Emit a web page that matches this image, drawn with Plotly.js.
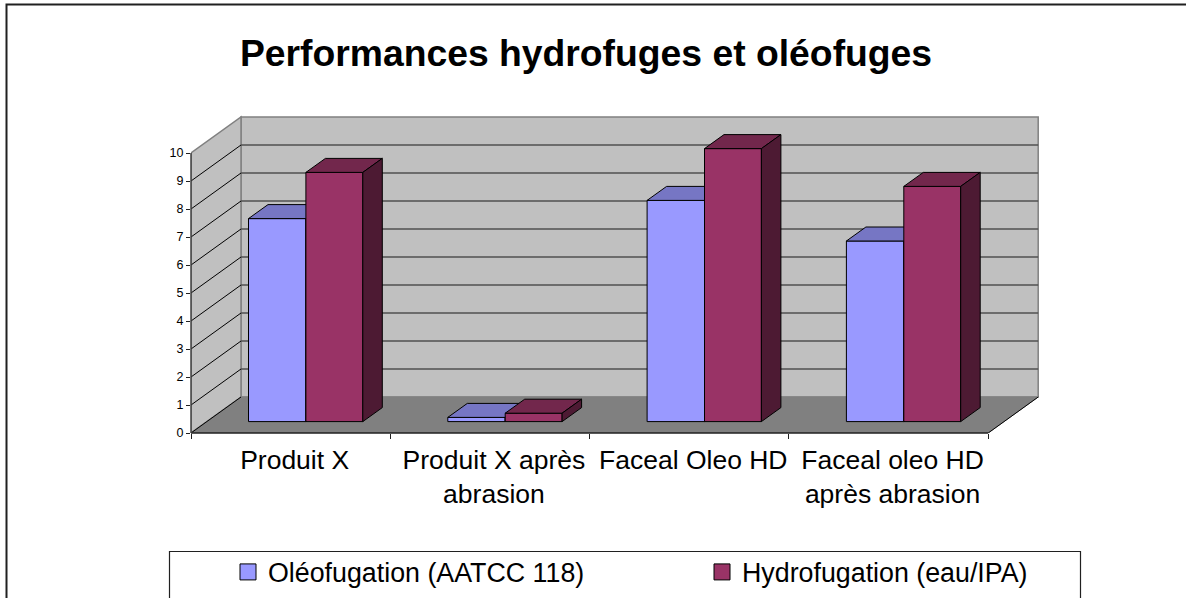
<!DOCTYPE html>
<html>
<head>
<meta charset="utf-8">
<script src="https://cdn.plot.ly/plotly-3.0.1.min.js"></script>
<style>html,body{margin:0;padding:0;background:#fff;overflow:hidden}</style>
</head>
<body>
<div id="chart" style="width:1186px;height:598px"></div>
<script>
const categories = ["Produit X", "Produit X après<br>abrasion", "Faceal Oleo HD", "Faceal oleo HD<br>après abrasion"];
const oleofugation = [7.25, 0.15, 7.9, 6.45];
const hydrofugation = [8.9, 0.3, 9.75, 8.4];
const seriesNames = ["Oléofugation (AATCC 118)", "Hydrofugation (eau/IPA)"];
const yTicks = [0, 1, 2, 3, 4, 5, 6, 7, 8, 9, 10];

// Geometry of the oblique projection
const W = 1186, H = 598, L = 191, T = 113, PW = 995, PH = 320;
const pxX = 199.3, pxY = 28;
const xMax = PW / pxX, yMax = PH / pxY;
const wallDx = 50 / pxX, wallDy = 36 / pxY;
const barDx = 19.5 / pxX, barDy = 14 / pxY;
const floorY = 11.4 / pxY;
const x0 = 0.2885, x1 = 0.5765, x2 = 0.862;
const nCat = categories.length, yTop = yTicks[yTicks.length - 1];

const xp = px => (px - L) / PW;
const yp = py => (T + PH - py) / PH;
const poly = pts => "M" + pts.map(p => p[0] + "," + p[1]).join("L") + "Z";

const shapes = [];
const dataShape = (pts, fill, color, width) => shapes.push({
  type: "path", xref: "x", yref: "y", layer: "below", path: poly(pts),
  fillcolor: fill, line: {color: color, width: width}
});
const seg = (a, b, color, width) => shapes.push({
  type: "line", xref: "x", yref: "y", layer: "below",
  x0: a[0], y0: a[1], x1: b[0], y1: b[1], line: {color: color, width: width}
});
// back wall, side wall, floor
dataShape([[wallDx, wallDy], [nCat + wallDx, wallDy], [nCat + wallDx, wallDy + yTop], [wallDx, wallDy + yTop]], "#c0c0c0", "#808080", 1.5);
dataShape([[0, 0], [wallDx, wallDy], [wallDx, wallDy + yTop], [0, yTop]], "#c0c0c0", "#808080", 1.5);
dataShape([[0, 0], [nCat, 0], [nCat + wallDx, wallDy], [wallDx, wallDy]], "#808080", "#808080", 1);
yTicks.slice(1, -1).forEach(v => {
  seg([wallDx, v + wallDy], [nCat + wallDx, v + wallDy], "#505050", 1.5);
  seg([0, v], [wallDx, v + wallDy], "#000000", 1);
});
seg([0, 0], [wallDx, wallDy], "#000000", 1);
seg([nCat, 0], [nCat + wallDx, wallDy], "#000000", 1);
// front axis lines, reach outside the clip region on their cross direction
shapes.push({type: "line", xref: "x", yref: "paper", x0: 0, x1: nCat, y0: 0, y1: 0, line: {color: "#202020", width: 1.5}});
shapes.push({type: "line", xref: "paper", yref: "y", x0: 0, x1: 0, y0: 0, y1: yTop, line: {color: "#404040", width: 1.5}});
// chart frame and legend frame
shapes.push({type: "path", xref: "paper", yref: "paper",
  path: `M${xp(6.5)},${yp(598)}L${xp(6.5)},${yp(4.5)}L${xp(1186)},${yp(4.5)}`, line: {color: "#202020", width: 2}});
shapes.push({type: "path", xref: "paper", yref: "paper",
  path: `M${xp(169.5)},${yp(598)}L${xp(169.5)},${yp(551.5)}L${xp(1080.5)},${yp(551.5)}L${xp(1080.5)},${yp(598)}`, line: {color: "#202020", width: 1.2}});

const pairs = fn => {
  const xs = [], ys = [];
  categories.forEach((c, i) => { fn(i).forEach(p => { xs.push(p[0]); ys.push(p[1]); }); xs.push(null); ys.push(null); });
  return {x: xs, y: ys};
};
const seriesTraces = (vals, a, b, name, col, top, side, xa, ya) => {
  const w = b - a;
  const base = {xaxis: xa, yaxis: ya, hoverinfo: "skip", showlegend: false, legendgroup: name};
  const face = (fn, fill) => Object.assign({}, base, pairs(fn), {type: "scatter", mode: "lines", fill: "toself", fillcolor: fill, line: {color: "#000", width: 1}});
  return [
    Object.assign({}, base, {type: "bar", name: name, x: categories.map((c, i) => i + a + w / 2), y: vals, base: vals.map(() => floorY),
      width: w, marker: {color: col, line: {color: "#000", width: 1}}}),
    face(i => { const v = vals[i] + floorY; return [[i + a, v], [i + b, v], [i + b + barDx, v + barDy], [i + a + barDx, v + barDy], [i + a, v]]; }, top),
    face(i => { const v = vals[i] + floorY; return [[i + b, floorY], [i + b + barDx, floorY + barDy], [i + b + barDx, v + barDy], [i + b, v], [i + b, floorY]]; }, side),
    Object.assign({}, base, {type: "scatter", mode: "markers", name: name, x: [null], y: [null], showlegend: true,
      marker: {symbol: "square", size: 16, color: col, line: {color: "#000", width: 1}}})
  ];
};

const data = [
  ...seriesTraces(oleofugation, x0, x1, seriesNames[0], "#9999ff", "#7676c4", "#4f4f85", "x", "y"),
  ...seriesTraces(hydrofugation, x1, x2, seriesNames[1], "#993366", "#72274c", "#4d1a33", "x2", "y2")
];

const font = "'Liberation Sans', Arial, sans-serif";
const layout = {
  width: W, height: H, paper_bgcolor: "#fff", plot_bgcolor: "rgba(0,0,0,0)",
  margin: {l: L, r: W - L - PW, t: T, b: H - T - PH, pad: 0, autoexpand: false},
  font: {family: font, color: "#000"},
  barmode: "overlay",
  title: {text: "<b>Performances hydrofuges et oléofuges</b>", x: 586 / W, xref: "container", xanchor: "center",
    y: 1 - 53 / H, yref: "container", yanchor: "middle", font: {family: font, size: 37.3, color: "#000"}},
  xaxis: {range: [0, xMax], tickmode: "array", tickvals: categories.map((c, i) => i).concat([nCat]), showticklabels: false,
    ticks: "outside", ticklen: 5, tickcolor: "#202020", tickwidth: 1.2, showgrid: false, zeroline: false, showline: false},
  yaxis: {range: [0, yMax], tickmode: "array", tickvals: yTicks, ticktext: yTicks.map(String), ticks: "outside", ticklen: 4,
    tickcolor: "#202020", tickwidth: 1.2, tickfont: {family: font, size: 12.5, color: "#000"}, showgrid: false, zeroline: false, showline: false},
  xaxis2: {overlaying: "x", anchor: "y2", side: "bottom", range: [0, xMax], tickmode: "array",
    tickvals: categories.map((c, i) => i + 0.52), ticktext: categories, ticks: "outside", ticklen: 3, tickcolor: "rgba(0,0,0,0)",
    tickfont: {family: font, size: 26.5, color: "#000"}, showgrid: false, zeroline: false, showline: false},
  yaxis2: {overlaying: "y", anchor: "x2", range: [0, yMax], visible: false},
  shapes: shapes,
  showlegend: true,
  legend: {orientation: "h", x: xp(228), xanchor: "left", y: yp(572), yanchor: "middle", bgcolor: "rgba(0,0,0,0)",
    borderwidth: 0, entrywidth: 429, entrywidthmode: "pixels", itemclick: false, itemdoubleclick: false,
    font: {family: font, size: 26.8, color: "#000"}}
};
Plotly.newPlot("chart", data, layout, {displayModeBar: false, responsive: false});
</script>
</body>
</html>
